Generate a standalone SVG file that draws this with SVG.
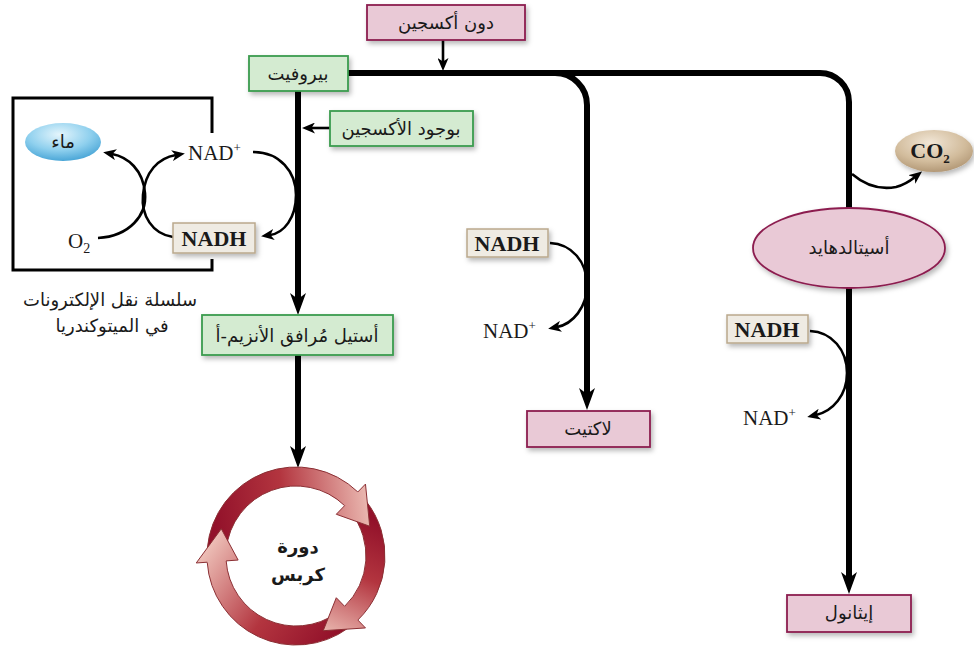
<svg xmlns="http://www.w3.org/2000/svg" width="974" height="650" viewBox="0 0 974 650">
  <defs>
    <style>
      .ar { font-family: "DejaVu Sans", "Noto Sans", sans-serif; font-size: 18px; fill: #1a1a1a; text-anchor: middle; }
      .lat { font-family: "Liberation Serif", "Times New Roman", serif; font-size: 21px; fill: #1a1a1a; }
      .latb { font-family: "Liberation Serif", "Times New Roman", serif; font-size: 22px; font-weight: bold; fill: #1a1a1a; text-anchor: middle; }
      .pink { fill: #e9c9d6; stroke: #8c1d4f; stroke-width: 1.8; }
      .green { fill: #d4ebd1; stroke: #3b9c4e; stroke-width: 1.8; }
      .nadh { fill: #efebe3; stroke: #baa88c; stroke-width: 1.5; }
      .thick { fill: none; stroke: #000; stroke-width: 6; }
      .thin { fill: none; stroke: #000; stroke-width: 2.6; }
      .ring-edge { fill: none; stroke: #8b2f34; stroke-width: 1; }
    </style>
    <filter id="shadow" x="-20%" y="-30%" width="150%" height="180%">
      <feDropShadow dx="2" dy="3" stdDeviation="2.5" flood-color="#000" flood-opacity="0.28"/>
    </filter>
    <marker id="bigHead" viewBox="0 0 22 16" markerWidth="22" markerHeight="16" refX="8" refY="8" orient="auto" markerUnits="userSpaceOnUse">
      <path d="M0,0 L22,8 L0,16 L6,8 Z" fill="#000"/>
    </marker>
    <marker id="smallHead" viewBox="0 0 13 11" markerWidth="13" markerHeight="11" refX="4" refY="5.5" orient="auto" markerUnits="userSpaceOnUse">
      <path d="M0,0 L13,5.5 L0,11 L3.5,5.5 Z" fill="#000"/>
    </marker>
    <radialGradient id="water" cx="0.45" cy="0.3" r="0.75">
      <stop offset="0" stop-color="#e4f5fc"/>
      <stop offset="0.55" stop-color="#8fd0ee"/>
      <stop offset="1" stop-color="#3f9fd3"/>
    </radialGradient>
    <radialGradient id="co2" cx="0.45" cy="0.3" r="0.75">
      <stop offset="0" stop-color="#f1e6d6"/>
      <stop offset="0.6" stop-color="#d2bc9c"/>
      <stop offset="1" stop-color="#ad9270"/>
    </radialGradient>
    <linearGradient id="ring1" gradientUnits="userSpaceOnUse" x1="215" y1="530" x2="372" y2="510">
      <stop offset="0" stop-color="#92112a"/>
      <stop offset="0.45" stop-color="#b3353f"/>
      <stop offset="1" stop-color="#ecbcb4"/>
    </linearGradient>
    <linearGradient id="ring2" gradientUnits="userSpaceOnUse" x1="375" y1="520" x2="323" y2="635">
      <stop offset="0" stop-color="#92112a"/>
      <stop offset="0.45" stop-color="#b3353f"/>
      <stop offset="1" stop-color="#ecbcb4"/>
    </linearGradient>
    <linearGradient id="ring3" gradientUnits="userSpaceOnUse" x1="340" y1="630" x2="215" y2="540">
      <stop offset="0" stop-color="#92112a"/>
      <stop offset="0.45" stop-color="#b3353f"/>
      <stop offset="1" stop-color="#ecbcb4"/>
    </linearGradient>
  </defs>

  <rect width="974" height="650" fill="#fff"/>

  <!-- connectors -->
  <g id="connectors">
    <!-- main pyruvate trunk and branches -->
    <path class="thick" d="M348,73 H373" stroke-width="8"/>
    <path class="thick" d="M370,73 H820 A29,29 0 0 1 849,102 V209" stroke-width="6"/>
    <path class="thick" d="M849,287 V580" stroke-width="5" marker-end="url(#bigHead)"/>
    <path class="thick" d="M555,73 A32,32 0 0 1 587,105 V396" stroke-width="5" marker-end="url(#bigHead)"/>
    <path class="thick" d="M298,91 V301" stroke-width="7" marker-end="url(#bigHead)"/>
    <path class="thick" d="M298,355 V454" stroke-width="7" marker-end="url(#bigHead)"/>
    <!-- oxygen condition arrows -->
    <path class="thin" d="M443,40 V62" stroke-width="2.2" marker-end="url(#smallHead)"/>
    <path class="thin" d="M330,128 H311" stroke-width="2.2" marker-end="url(#smallHead)"/>
    <!-- electron transport chain loops -->
    <path class="thin" d="M98,238 C130,236 147,215 145,193 C143,170 128,157 112,154" marker-end="url(#smallHead)"/>
    <path class="thin" d="M173,237 C152,234 141,215 143,195 C145,172 158,158 176,155" marker-end="url(#smallHead)"/>
    <path class="thin" d="M253,152 C280,152 296,172 296,195 C296,218 284,233 270,235" marker-end="url(#smallHead)"/>
    <!-- NADH to NAD+ side loops -->
    <path class="thin" d="M550,243 C572,244 587,262 587,285 C587,307 573,324 557,327" marker-end="url(#smallHead)"/>
    <path class="thin" d="M810,331 C832,332 847,350 847,373 C847,395 833,411 816,415" marker-end="url(#smallHead)"/>
    <!-- CO2 release -->
    <path class="thin" d="M852,174 C866,186 880,190 896,187 C904,185 910,181 915,177" marker-end="url(#smallHead)"/>
    <!-- mitochondrial frame -->
    <path d="M212,133 V98 H13 V270 H212 V259" fill="none" stroke="#000" stroke-width="3"/>
  </g>

  <g id="no-oxygen">
    <rect class="pink" x="367" y="5" width="158" height="35" filter="url(#shadow)"/>
    <text class="ar" x="446" y="29" direction="rtl">دون أكسجين</text>
  </g>

  <g id="pyruvate">
    <rect class="green" x="249" y="56" width="99" height="35" filter="url(#shadow)"/>
    <text class="ar" x="298" y="80" direction="rtl">بيروفيت</text>
  </g>

  <g id="with-oxygen">
    <rect class="green" x="330" y="111" width="143" height="35" filter="url(#shadow)"/>
    <text class="ar" x="401" y="135" direction="rtl">بوجود الأكسجين</text>
  </g>

  <g id="acetyl-coa">
    <rect class="green" x="202" y="315" width="191" height="40" filter="url(#shadow)"/>
    <text class="ar" x="297" y="342" direction="rtl">أستيل مُرافق الأنزيم-أ</text>
  </g>

  <g id="water">
    <ellipse cx="63" cy="142" rx="38" ry="19" fill="url(#water)"/>
    <text class="ar" x="63" y="148" direction="rtl" font-size="16">ماء</text>
  </g>

  <g id="nad-etc">
    <text class="lat" x="188" y="160">NAD<tspan dy="-8" font-size="13">+</tspan></text>
  </g>

  <g id="oxygen">
    <text class="lat" x="68" y="248">O<tspan dy="5" font-size="14">2</tspan></text>
  </g>

  <g id="nadh-etc">
    <rect class="nadh" x="173" y="223" width="82" height="30" filter="url(#shadow)"/>
    <text class="latb" x="214" y="246">NADH</text>
  </g>

  <g id="etc-caption">
    <text class="ar" x="110" y="306" direction="rtl">سلسلة نقل الإلكترونات</text>
    <text class="ar" x="112" y="332" direction="rtl">في الميتوكندريا</text>
  </g>

  <g id="krebs">
    <!-- arrow bodies -->
    <path d="M207.34,548.24 A89,89 0 0 1 360.02,494.17 L346.35,507.37 A70,70 0 0 0 226.27,549.90 Z" fill="url(#ring1)"/>
    <path d="M366.13,501.20 A89,89 0 0 1 355.55,622.14 L342.84,608.02 A70,70 0 0 0 351.16,512.90 Z" fill="url(#ring2)"/>
    <path d="M348.31,628.00 A89,89 0 0 1 207.05,559.11 L226.04,558.44 A70,70 0 0 0 337.15,612.63 Z" fill="url(#ring3)"/>
    <path class="ring-edge" d="M207.34,548.24 A89,89 0 0 1 357.83,491.98 M226.27,549.90 A70,70 0 0 1 344.63,505.65"/>
    <path class="ring-edge" d="M366.13,501.20 A89,89 0 0 1 357.83,620.02 M351.16,512.90 A70,70 0 0 1 344.63,606.35"/>
    <path class="ring-edge" d="M348.31,628.00 A89,89 0 0 1 207.21,562.21 M337.15,612.63 A70,70 0 0 1 226.17,560.89"/>
    <!-- arrow heads -->
    <path d="M357.83,491.98 L365.47,484.07 L369.71,526.22 L336.29,514.28 L344.63,505.65" fill="url(#ring1)" stroke="#8b2f34" stroke-width="1"/>
    <path d="M357.83,620.02 L365.47,627.93 L323.19,630.71 L336.29,597.72 L344.63,606.35" fill="url(#ring2)" stroke="#8b2f34" stroke-width="1"/>
    <path d="M207.21,562.21 L196.24,562.98 L221.29,528.81 L238.14,560.05 L226.17,560.89" fill="url(#ring3)" stroke="#8b2f34" stroke-width="1"/>
    <text class="ar" x="298" y="553" direction="rtl" font-weight="bold" font-size="20">دورة</text>
    <text class="ar" x="298" y="581" direction="rtl" font-weight="bold" font-size="20">كربس</text>
  </g>

  <g id="lactate-nadh">
    <rect class="nadh" x="467" y="229" width="81" height="28" filter="url(#shadow)"/>
    <text class="latb" x="507" y="251">NADH</text>
  </g>
  <g id="lactate-nad">
    <text class="lat" x="483" y="338">NAD<tspan dy="-8" font-size="13">+</tspan></text>
  </g>
  <g id="lactate">
    <rect class="pink" x="527" y="411" width="123" height="36" filter="url(#shadow)"/>
    <text class="ar" x="588" y="435" direction="rtl">لاكتيت</text>
  </g>

  <g id="co2">
    <ellipse cx="934" cy="151" rx="39" ry="21" fill="url(#co2)" filter="url(#shadow)"/>
    <text class="latb" x="930" y="158" font-size="20">CO<tspan dy="5" font-size="13">2</tspan></text>
  </g>

  <g id="acetaldehyde">
    <ellipse class="pink" cx="849" cy="248" rx="96" ry="40" filter="url(#shadow)"/>
    <text class="ar" x="849" y="254" direction="rtl">أسيتالدهايد</text>
  </g>

  <g id="ethanol-nadh">
    <rect class="nadh" x="727" y="315" width="81" height="28" filter="url(#shadow)"/>
    <text class="latb" x="767" y="337">NADH</text>
  </g>
  <g id="ethanol-nad">
    <text class="lat" x="743" y="425">NAD<tspan dy="-8" font-size="13">+</tspan></text>
  </g>
  <g id="ethanol">
    <rect class="pink" x="787" y="595" width="124" height="37" filter="url(#shadow)"/>
    <text class="ar" x="849" y="619" direction="rtl">إيثانول</text>
  </g>
</svg>
